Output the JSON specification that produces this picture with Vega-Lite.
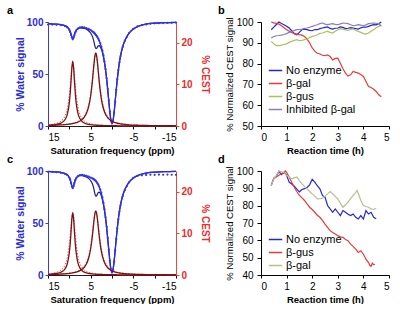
{
"$schema": "https://vega.github.io/schema/vega-lite/v6.json",
"padding": {"left": 7, "top": 4, "right": 0, "bottom": 0},
"background": "white",
"bounds": "flush",
"columns": 2,
"spacing": {"row": 45, "column": 85},
"resolve": {"scale": {"color": "independent"}, "legend": {"color": "independent"}},
"config": {
 "view": {"stroke": null},
 "font": "Liberation Sans",
 "axis": {"grid": false, "tickSize": 3, "labelFontSize": 10, "titleFontSize": 9.5, "labelColor": "#000", "titleColor": "#000", "domainColor": "#000", "tickColor": "#000", "labelPadding": 2},
 "title": {"fontSize": 11, "fontWeight": "bold", "anchor": "start", "frame": "group", "color": "#000"},
 "legend": {"padding": 0},
 "line": {"interpolate": "monotone"}
},
"datasets": {
"za": [
{"x":15,"u":98.3,"n":98.3,"d":97.6,"r9":0.17,"r4":0.14,"r9d":0.28,"r4d":0.16},
{"x":14,"u":98.1,"n":98.1,"d":97.5,"r9":0.24,"r4":0.17,"r9d":0.41,"r4d":0.2},
{"x":13,"u":97.9,"n":97.9,"d":97.3,"r9":0.38,"r4":0.21,"r9d":0.64,"r4d":0.24},
{"x":12,"u":97.4,"n":97.4,"d":96.9,"r9":0.68,"r4":0.26,"r9d":1.13,"r4d":0.3},
{"x":11,"u":96.5,"n":96.4,"d":96.0,"r9":1.56,"r4":0.33,"r9d":2.47,"r4d":0.39},
{"x":10.5,"u":95.3,"n":95.2,"d":94.8,"r9":2.74,"r4":0.38,"r9d":4.12,"r4d":0.45},
{"x":10,"u":92.8,"n":92.7,"d":92.2,"r9":5.62,"r4":0.45,"r9d":7.5,"r4d":0.52},
{"x":9.8,"u":90.9,"n":90.8,"d":90.3,"r9":7.8,"r4":0.48,"r9d":9.6,"r4d":0.55},
{"x":9.6,"u":88.3,"n":88.2,"d":87.6,"r9":10.8,"r4":0.51,"r9d":12,"r4d":0.59},
{"x":9.4,"u":85.5,"n":85.4,"d":85.0,"r9":14.04,"r4":0.54,"r9d":14.1,"r4d":0.63},
{"x":9.2,"u":84.1,"n":84.0,"d":83.4,"r9":15.6,"r4":0.58,"r9d":15,"r4d":0.68},
{"x":9.0,"u":85.3,"n":85.2,"d":84.9,"r9":14.04,"r4":0.63,"r9d":14.1,"r4d":0.73},
{"x":8.8,"u":87.9,"n":87.8,"d":87.5,"r9":10.8,"r4":0.68,"r9d":12,"r4d":0.78},
{"x":8.6,"u":90.3,"n":90.1,"d":90.0,"r9":7.8,"r4":0.73,"r9d":9.6,"r4d":0.85},
{"x":8.4,"u":92.0,"n":91.8,"d":91.7,"r9":5.62,"r4":0.79,"r9d":7.5,"r4d":0.92},
{"x":8.0,"u":93.8,"n":93.6,"d":93.6,"r9":3.12,"r4":0.95,"r9d":4.62,"r4d":1.09},
{"x":7.5,"u":94.6,"n":94.3,"d":94.9,"r9":1.73,"r4":1.2,"r9d":2.72,"r4d":1.38},
{"x":7.0,"u":94.7,"n":94.2,"d":95.1,"r9":1.08,"r4":1.57,"r9d":1.75,"r4d":1.8},
{"x":6.5,"u":94.4,"n":93.8,"d":94.8,"r9":0.73,"r4":2.12,"r9d":1.21,"r4d":2.42},
{"x":6.0,"u":93.9,"n":93.0,"d":94.2,"r9":0.53,"r4":3.01,"r9d":0.88,"r4d":3.4},
{"x":5.5,"u":93.1,"n":91.6,"d":93.3,"r9":0.40,"r4":4.52,"r9d":0.67,"r4d":5.01},
{"x":5.0,"u":92.0,"n":89.4,"d":92.3,"r9":0.31,"r4":7.21,"r9d":0.52,"r4d":7.76},
{"x":4.6,"u":90.9,"n":86.2,"d":91.1,"r9":0.26,"r4":10.73,"r9d":0.44,"r4d":11.1},
{"x":4.4,"u":90.2,"n":83.7,"d":90.3,"r9":0.24,"r4":12.94,"r9d":0.41,"r4d":13.1},
{"x":4.2,"u":89.4,"n":80.4,"d":89.7,"r9":0.22,"r4":15.17,"r9d":0.37,"r4d":15},
{"x":4.0,"u":88.5,"n":76.8,"d":88.8,"r9":0.2,"r4":16.92,"r9d":0.35,"r4d":16.5},
{"x":3.8,"u":87.6,"n":74.6,"d":87.6,"r9":0.19,"r4":17.6,"r9d":0.32,"r4d":17},
{"x":3.6,"u":86.4,"n":74.7,"d":86.7,"r9":0.18,"r4":16.92,"r9d":0.3,"r4d":16.5},
{"x":3.4,"u":85.1,"n":76.1,"d":85.4,"r9":0.17,"r4":15.17,"r9d":0.28,"r4d":15},
{"x":3.2,"u":83.6,"n":77.1,"d":83.9,"r9":0.16,"r4":12.94,"r9d":0.26,"r4d":13.1},
{"x":3.0,"u":81.9,"n":77.2,"d":82.0,"r9":0.15,"r4":10.73,"r9d":0.24,"r4d":11.1},
{"x":2.75,"u":79.2,"n":76.0,"d":79.5,"r9":0.14,"r4":8.37,"r9d":0.22,"r4d":8.9},
{"x":2.5,"u":76.2,"n":73.9,"d":76.4,"r9":0.13,"r4":6.54,"r9d":0.2,"r4d":7.08},
{"x":2.25,"u":72.2,"n":70.5,"d":72.6,"r9":0.12,"r4":5.17,"r9d":0.19,"r4d":5.69},
{"x":2.0,"u":67.4,"n":66.1,"d":67.8,"r9":0.11,"r4":4.15,"r9d":0.17,"r4d":4.62},
{"x":1.75,"u":61.5,"n":60.4,"d":61.9,"r9":0.1,"r4":3.38,"r9d":0.16,"r4d":3.8},
{"x":1.5,"u":54.1,"n":53.3,"d":54.6,"r9":0.1,"r4":2.8,"r9d":0.15,"r4d":3.17},
{"x":1.25,"u":45.3,"n":44.6,"d":45.9,"r9":0.09,"r4":2.35,"r9d":0.14,"r4d":2.67},
{"x":1.0,"u":35.1,"n":34.5,"d":35.6,"r9":0.08,"r4":1.99,"r9d":0.13,"r4d":2.27},
{"x":0.75,"u":23.9,"n":23.9,"d":24.6,"r9":0.08,"r4":1.71,"r9d":0.12,"r4d":1.96},
{"x":0.5,"u":13.3,"n":13.3,"d":13.9,"r9":0.07,"r4":1.48,"r9d":0.11,"r4d":1.7},
{"x":0.25,"u":5.3,"n":5.3,"d":5.8,"r9":0.07,"r4":1.29,"r9d":0.1,"r4d":1.49},
{"x":0,"u":2.3,"n":2.3,"d":2.6,"r9":0.07,"r4":1.14,"r9d":0.1,"r4d":1.32},
{"x":-0.25,"u":5.3,"n":5.3,"d":5.0,"r9":0.06,"r4":1.01,"r9d":0.1,"r4d":1.16},
{"x":-0.5,"u":13.3,"n":13.3,"d":12.9,"r9":0.06,"r4":0.9,"r9d":0.09,"r4d":1.04},
{"x":-0.75,"u":23.9,"n":23.9,"d":23.5,"r9":0.06,"r4":0.81,"r9d":0.09,"r4d":0.94},
{"x":-1.0,"u":35.1,"n":35.1,"d":34.8,"r9":0.06,"r4":0.73,"r9d":0.09,"r4d":0.85},
{"x":-1.25,"u":45.3,"n":45.3,"d":45.0,"r9":0.05,"r4":0.66,"r9d":0.08,"r4d":0.77},
{"x":-1.5,"u":54.1,"n":54.1,"d":53.9,"r9":0.05,"r4":0.6,"r9d":0.08,"r4d":0.7},
{"x":-1.75,"u":61.5,"n":61.5,"d":61.1,"r9":0.05,"r4":0.55,"r9d":0.07,"r4d":0.64},
{"x":-2.0,"u":67.4,"n":67.4,"d":67.2,"r9":0.05,"r4":0.51,"r9d":0.07,"r4d":0.59},
{"x":-2.5,"u":76.2,"n":76.2,"d":75.9,"r9":0.04,"r4":0.43,"r9d":0.07,"r4d":0.5},
{"x":-3.0,"u":82.0,"n":82.0,"d":81.8,"r9":0.04,"r4":0.37,"r9d":0.06,"r4d":0.43},
{"x":-3.5,"u":86.0,"n":86.0,"d":85.8,"r9":0.04,"r4":0.32,"r9d":0.06,"r4d":0.38},
{"x":-4,"u":89.2,"n":89.2,"d":89.3,"r9":0.03,"r4":0.28,"r9d":0.05,"r4d":0.33},
{"x":-5,"u":93.3,"n":93.3,"d":93.5,"r9":0.03,"r4":0.22,"r9d":0.05,"r4d":0.26},
{"x":-6,"u":95.6,"n":95.6,"d":95.9,"r9":0.03,"r4":0.18,"r9d":0.05,"r4d":0.21},
{"x":-7,"u":97.1,"n":97.1,"d":97.0,"r9":0.02,"r4":0.15,"r9d":0.04,"r4d":0.17},
{"x":-8,"u":98.0,"n":98.0,"d":97.7,"r9":0.02,"r4":0.13,"r9d":0.04,"r4d":0.15},
{"x":-9,"u":98.6,"n":98.6,"d":98.2,"r9":0.02,"r4":0.11,"r9d":0.03,"r4d":0.12},
{"x":-10,"u":98.9,"n":98.9,"d":98.7,"r9":0.02,"r4":0.09,"r9d":0.03,"r4d":0.11},
{"x":-11,"u":99.2,"n":99.2,"d":98.8,"r9":0.01,"r4":0.08,"r9d":0.03,"r4d":0.09},
{"x":-12,"u":99.3,"n":99.3,"d":99.0,"r9":0.01,"r4":0.07,"r9d":0.03,"r4d":0.08},
{"x":-13,"u":99.4,"n":99.4,"d":99.1,"r9":0.01,"r4":0.06,"r9d":0.02,"r4d":0.07},
{"x":-14,"u":99.5,"n":99.5,"d":99.2,"r9":0.01,"r4":0.06,"r9d":0.02,"r4d":0.06},
{"x":-15,"u":99.6,"n":99.6,"d":99.3,"r9":0.01,"r4":0.05,"r9d":0.02,"r4d":0.06}
],
"zc": [
{"x":15,"u":99.5,"n":99.5,"d":99.2,"r9":0.16,"r4":0.12,"r9d":0.28,"r4d":0.14},
{"x":14,"u":99.3,"n":99.3,"d":99.1,"r9":0.23,"r4":0.15,"r9d":0.41,"r4d":0.18},
{"x":13,"u":99.1,"n":99.1,"d":98.8,"r9":0.36,"r4":0.18,"r9d":0.64,"r4d":0.22},
{"x":12,"u":98.6,"n":98.6,"d":98.3,"r9":0.65,"r4":0.23,"r9d":1.13,"r4d":0.27},
{"x":11,"u":97.6,"n":97.5,"d":97.2,"r9":1.5,"r4":0.29,"r9d":2.47,"r4d":0.35},
{"x":10.5,"u":96.5,"n":96.4,"d":96.1,"r9":2.63,"r4":0.33,"r9d":4.12,"r4d":0.41},
{"x":10,"u":93.8,"n":93.7,"d":93.4,"r9":5.4,"r4":0.39,"r9d":7.5,"r4d":0.47},
{"x":9.8,"u":91.9,"n":91.8,"d":91.5,"r9":7.49,"r4":0.42,"r9d":9.6,"r4d":0.5},
{"x":9.6,"u":88.8,"n":88.7,"d":88.2,"r9":10.37,"r4":0.45,"r9d":12,"r4d":0.53},
{"x":9.4,"u":85.5,"n":85.4,"d":85.0,"r9":13.48,"r4":0.47,"r9d":14.1,"r4d":0.57},
{"x":9.2,"u":84.3,"n":84.2,"d":83.5,"r9":15.0,"r4":0.51,"r9d":15,"r4d":0.61},
{"x":9.0,"u":85.8,"n":85.7,"d":85.3,"r9":13.48,"r4":0.55,"r9d":14.1,"r4d":0.66},
{"x":8.8,"u":88.9,"n":88.8,"d":88.5,"r9":10.37,"r4":0.6,"r9d":12,"r4d":0.7},
{"x":8.6,"u":91.5,"n":91.3,"d":91.2,"r9":7.49,"r4":0.64,"r9d":9.6,"r4d":0.77},
{"x":8.4,"u":93.3,"n":93.1,"d":93.0,"r9":5.4,"r4":0.69,"r9d":7.5,"r4d":0.83},
{"x":8.0,"u":95.1,"n":94.8,"d":94.9,"r9":3.0,"r4":0.83,"r9d":4.62,"r4d":0.98},
{"x":7.5,"u":95.9,"n":95.5,"d":96.1,"r9":1.66,"r4":1.05,"r9d":2.72,"r4d":1.24},
{"x":7.0,"u":96.0,"n":95.5,"d":96.2,"r9":1.04,"r4":1.37,"r9d":1.75,"r4d":1.62},
{"x":6.5,"u":95.7,"n":95.0,"d":95.9,"r9":0.7,"r4":1.86,"r9d":1.21,"r4d":2.18},
{"x":6.0,"u":95.2,"n":94.2,"d":95.4,"r9":0.51,"r4":2.63,"r9d":0.88,"r4d":3.06},
{"x":5.5,"u":94.5,"n":92.9,"d":94.6,"r9":0.38,"r4":3.96,"r9d":0.67,"r4d":4.51},
{"x":5.0,"u":93.5,"n":90.6,"d":93.7,"r9":0.3,"r4":6.31,"r9d":0.52,"r4d":6.98},
{"x":4.6,"u":92.9,"n":87.7,"d":93.0,"r9":0.25,"r4":9.39,"r9d":0.44,"r4d":9.99},
{"x":4.4,"u":92.4,"n":85.2,"d":92.5,"r9":0.23,"r4":11.32,"r9d":0.41,"r4d":11.79},
{"x":4.2,"u":91.8,"n":81.8,"d":91.9,"r9":0.21,"r4":13.27,"r9d":0.37,"r4d":13.5},
{"x":4.0,"u":91.0,"n":78.0,"d":91.2,"r9":0.19,"r4":14.8,"r9d":0.35,"r4d":14.85},
{"x":3.8,"u":90.3,"n":75.8,"d":90.4,"r9":0.18,"r4":15.4,"r9d":0.32,"r4d":15.3},
{"x":3.6,"u":89.2,"n":76.2,"d":89.4,"r9":0.17,"r4":14.8,"r9d":0.3,"r4d":14.85},
{"x":3.4,"u":88.0,"n":78.0,"d":88.2,"r9":0.16,"r4":13.27,"r9d":0.28,"r4d":13.5},
{"x":3.2,"u":86.6,"n":79.4,"d":86.8,"r9":0.15,"r4":11.32,"r9d":0.26,"r4d":11.79},
{"x":3.0,"u":84.9,"n":79.7,"d":85.0,"r9":0.14,"r4":9.39,"r9d":0.24,"r4d":9.99},
{"x":2.75,"u":82.0,"n":78.4,"d":82.3,"r9":0.13,"r4":7.32,"r9d":0.22,"r4d":8.01},
{"x":2.5,"u":78.7,"n":76.1,"d":79.0,"r9":0.12,"r4":5.72,"r9d":0.2,"r4d":6.37},
{"x":2.25,"u":74.2,"n":72.3,"d":74.6,"r9":0.12,"r4":4.52,"r9d":0.19,"r4d":5.12},
{"x":2.0,"u":68.9,"n":67.5,"d":69.3,"r9":0.11,"r4":3.63,"r9d":0.17,"r4d":4.16},
{"x":1.75,"u":62.7,"n":61.5,"d":63.1,"r9":0.1,"r4":2.96,"r9d":0.16,"r4d":3.42},
{"x":1.5,"u":54.9,"n":54.0,"d":55.4,"r9":0.1,"r4":2.45,"r9d":0.15,"r4d":2.85},
{"x":1.25,"u":45.8,"n":45.1,"d":46.3,"r9":0.09,"r4":2.06,"r9d":0.14,"r4d":2.4},
{"x":1.0,"u":35.1,"n":34.5,"d":35.6,"r9":0.09,"r4":1.74,"r9d":0.13,"r4d":2.04},
{"x":0.75,"u":23.9,"n":23.9,"d":24.5,"r9":0.08,"r4":1.5,"r9d":0.12,"r4d":1.76},
{"x":0.5,"u":13.3,"n":13.3,"d":13.8,"r9":0.08,"r4":1.3,"r9d":0.11,"r4d":1.53},
{"x":0.25,"u":5.3,"n":5.3,"d":5.7,"r9":0.07,"r4":1.13,"r9d":0.1,"r4d":1.34},
{"x":0,"u":2.3,"n":2.3,"d":2.5,"r9":0.07,"r4":1.0,"r9d":0.1,"r4d":1.19},
{"x":-0.25,"u":5.3,"n":5.3,"d":5.1,"r9":0.06,"r4":0.88,"r9d":0.1,"r4d":1.04},
{"x":-0.5,"u":13.3,"n":13.3,"d":13.0,"r9":0.06,"r4":0.79,"r9d":0.09,"r4d":0.94},
{"x":-0.75,"u":23.9,"n":23.9,"d":23.6,"r9":0.06,"r4":0.71,"r9d":0.09,"r4d":0.85},
{"x":-1.0,"u":35.1,"n":35.1,"d":34.7,"r9":0.06,"r4":0.64,"r9d":0.09,"r4d":0.77},
{"x":-1.25,"u":45.3,"n":45.3,"d":44.9,"r9":0.05,"r4":0.58,"r9d":0.08,"r4d":0.69},
{"x":-1.5,"u":54.1,"n":54.1,"d":53.7,"r9":0.05,"r4":0.53,"r9d":0.08,"r4d":0.63},
{"x":-1.75,"u":61.5,"n":61.5,"d":61.0,"r9":0.05,"r4":0.48,"r9d":0.07,"r4d":0.58},
{"x":-2.0,"u":67.4,"n":67.4,"d":67.0,"r9":0.05,"r4":0.45,"r9d":0.07,"r4d":0.53},
{"x":-2.5,"u":76.2,"n":76.2,"d":75.8,"r9":0.04,"r4":0.38,"r9d":0.07,"r4d":0.45},
{"x":-3.0,"u":82.0,"n":82.0,"d":81.6,"r9":0.04,"r4":0.32,"r9d":0.06,"r4d":0.39},
{"x":-3.5,"u":86.0,"n":86.0,"d":85.6,"r9":0.04,"r4":0.28,"r9d":0.06,"r4d":0.34},
{"x":-4,"u":89.2,"n":89.2,"d":89.0,"r9":0.03,"r4":0.25,"r9d":0.05,"r4d":0.3},
{"x":-5,"u":93.3,"n":93.3,"d":93.4,"r9":0.03,"r4":0.19,"r9d":0.05,"r4d":0.23},
{"x":-6,"u":95.6,"n":95.6,"d":95.4,"r9":0.03,"r4":0.16,"r9d":0.05,"r4d":0.19},
{"x":-7,"u":97.1,"n":97.1,"d":95.9,"r9":0.02,"r4":0.13,"r9d":0.04,"r4d":0.15},
{"x":-8,"u":98.0,"n":98.0,"d":96.2,"r9":0.02,"r4":0.11,"r9d":0.04,"r4d":0.14},
{"x":-9,"u":98.6,"n":98.6,"d":96.5,"r9":0.02,"r4":0.1,"r9d":0.03,"r4d":0.11},
{"x":-10,"u":98.9,"n":98.9,"d":96.3,"r9":0.02,"r4":0.08,"r9d":0.03,"r4d":0.1},
{"x":-11,"u":99.2,"n":99.2,"d":96.6,"r9":0.01,"r4":0.07,"r9d":0.03,"r4d":0.08},
{"x":-12,"u":99.3,"n":99.3,"d":96.4,"r9":0.01,"r4":0.06,"r9d":0.03,"r4d":0.07},
{"x":-13,"u":99.4,"n":99.4,"d":96.6,"r9":0.01,"r4":0.05,"r9d":0.02,"r4d":0.06},
{"x":-14,"u":99.5,"n":99.5,"d":96.4,"r9":0.01,"r4":0.05,"r9d":0.02,"r4d":0.05},
{"x":-15,"u":99.6,"n":99.6,"d":96.3,"r9":0.01,"r4":0.04,"r9d":0.02,"r4d":0.05}
],
"tb": [
{"s":"No enzyme","t":0.4,"v":96.3},{"s":"No enzyme","t":0.5,"v":97.5},{"s":"No enzyme","t":0.6,"v":98.8},{"s":"No enzyme","t":0.7,"v":100},{"s":"No enzyme","t":0.8,"v":99.3},{"s":"No enzyme","t":0.9,"v":98.7},{"s":"No enzyme","t":1.0,"v":98.0},{"s":"No enzyme","t":1.1,"v":97.1},{"s":"No enzyme","t":1.2,"v":95.8},{"s":"No enzyme","t":1.3,"v":94.4},{"s":"No enzyme","t":1.4,"v":93.9},{"s":"No enzyme","t":1.5,"v":95.0},{"s":"No enzyme","t":1.6,"v":96.3},{"s":"No enzyme","t":1.7,"v":96.5},{"s":"No enzyme","t":1.8,"v":96.3},{"s":"No enzyme","t":1.9,"v":96.0},{"s":"No enzyme","t":2.0,"v":95.8},{"s":"No enzyme","t":2.1,"v":96.4},{"s":"No enzyme","t":2.2,"v":96.3},{"s":"No enzyme","t":2.3,"v":96.8},{"s":"No enzyme","t":2.4,"v":97.1},{"s":"No enzyme","t":2.5,"v":97.4},{"s":"No enzyme","t":2.6,"v":97.6},{"s":"No enzyme","t":2.7,"v":96.9},{"s":"No enzyme","t":2.8,"v":96.6},{"s":"No enzyme","t":2.9,"v":97.0},{"s":"No enzyme","t":3.0,"v":97.1},{"s":"No enzyme","t":3.1,"v":97.6},{"s":"No enzyme","t":3.2,"v":97.4},{"s":"No enzyme","t":3.3,"v":96.8},{"s":"No enzyme","t":3.4,"v":97.0},{"s":"No enzyme","t":3.5,"v":97.3},{"s":"No enzyme","t":3.6,"v":97.1},{"s":"No enzyme","t":3.7,"v":96.8},{"s":"No enzyme","t":3.8,"v":96.6},{"s":"No enzyme","t":3.9,"v":97.2},{"s":"No enzyme","t":4.0,"v":97.6},{"s":"No enzyme","t":4.1,"v":97.5},{"s":"No enzyme","t":4.2,"v":97.9},{"s":"No enzyme","t":4.3,"v":98.4},{"s":"No enzyme","t":4.4,"v":98.7},{"s":"No enzyme","t":4.5,"v":98.6},{"s":"No enzyme","t":4.6,"v":99.2},{"s":"No enzyme","t":4.7,"v":100},
{"s":"β-gal","t":0.4,"v":100},{"s":"β-gal","t":0.5,"v":99.6},{"s":"β-gal","t":0.6,"v":99.3},{"s":"β-gal","t":0.7,"v":99.0},{"s":"β-gal","t":0.8,"v":98.2},{"s":"β-gal","t":0.9,"v":97.2},{"s":"β-gal","t":1.0,"v":96.3},{"s":"β-gal","t":1.1,"v":95.6},{"s":"β-gal","t":1.2,"v":95.0},{"s":"β-gal","t":1.3,"v":94.4},{"s":"β-gal","t":1.4,"v":94.2},{"s":"β-gal","t":1.5,"v":93.9},{"s":"β-gal","t":1.6,"v":93.7},{"s":"β-gal","t":1.7,"v":93.0},{"s":"β-gal","t":1.8,"v":91.8},{"s":"β-gal","t":1.9,"v":90.0},{"s":"β-gal","t":2.0,"v":87.5},{"s":"β-gal","t":2.1,"v":86.0},{"s":"β-gal","t":2.2,"v":85.0},{"s":"β-gal","t":2.3,"v":84.6},{"s":"β-gal","t":2.4,"v":84.0},{"s":"β-gal","t":2.5,"v":83.8},{"s":"β-gal","t":2.6,"v":84.2},{"s":"β-gal","t":2.7,"v":83.4},{"s":"β-gal","t":2.8,"v":81.8},{"s":"β-gal","t":2.9,"v":82.5},{"s":"β-gal","t":3.0,"v":82.6},{"s":"β-gal","t":3.1,"v":80.2},{"s":"β-gal","t":3.2,"v":77.5},{"s":"β-gal","t":3.3,"v":75.4},{"s":"β-gal","t":3.4,"v":74.0},{"s":"β-gal","t":3.5,"v":74.6},{"s":"β-gal","t":3.6,"v":76.2},{"s":"β-gal","t":3.7,"v":75.8},{"s":"β-gal","t":3.8,"v":75.4},{"s":"β-gal","t":3.9,"v":74.8},{"s":"β-gal","t":4.0,"v":73.8},{"s":"β-gal","t":4.1,"v":71.4},{"s":"β-gal","t":4.2,"v":69.0},{"s":"β-gal","t":4.3,"v":68.5},{"s":"β-gal","t":4.4,"v":67.7},{"s":"β-gal","t":4.5,"v":66.6},{"s":"β-gal","t":4.6,"v":65.0},{"s":"β-gal","t":4.7,"v":64.1},
{"s":"β-gus","t":0.4,"v":90.7},{"s":"β-gus","t":0.5,"v":89.5},{"s":"β-gus","t":0.6,"v":88.6},{"s":"β-gus","t":0.7,"v":88.6},{"s":"β-gus","t":0.8,"v":88.9},{"s":"β-gus","t":0.9,"v":89.2},{"s":"β-gus","t":1.0,"v":89.5},{"s":"β-gus","t":1.1,"v":90.2},{"s":"β-gus","t":1.2,"v":90.7},{"s":"β-gus","t":1.3,"v":91.2},{"s":"β-gus","t":1.4,"v":91.5},{"s":"β-gus","t":1.5,"v":91.0},{"s":"β-gus","t":1.6,"v":91.2},{"s":"β-gus","t":1.7,"v":91.5},{"s":"β-gus","t":1.8,"v":91.8},{"s":"β-gus","t":1.9,"v":92.5},{"s":"β-gus","t":2.0,"v":93.1},{"s":"β-gus","t":2.1,"v":93.4},{"s":"β-gus","t":2.2,"v":93.9},{"s":"β-gus","t":2.3,"v":94.5},{"s":"β-gus","t":2.4,"v":94.7},{"s":"β-gus","t":2.5,"v":95.2},{"s":"β-gus","t":2.6,"v":95.5},{"s":"β-gus","t":2.7,"v":95.0},{"s":"β-gus","t":2.8,"v":94.7},{"s":"β-gus","t":2.9,"v":95.5},{"s":"β-gus","t":3.0,"v":96.3},{"s":"β-gus","t":3.1,"v":96.8},{"s":"β-gus","t":3.2,"v":96.6},{"s":"β-gus","t":3.3,"v":96.2},{"s":"β-gus","t":3.4,"v":96.0},{"s":"β-gus","t":3.5,"v":96.4},{"s":"β-gus","t":3.6,"v":96.6},{"s":"β-gus","t":3.7,"v":96.0},{"s":"β-gus","t":3.8,"v":95.5},{"s":"β-gus","t":3.9,"v":95.0},{"s":"β-gus","t":4.0,"v":94.4},{"s":"β-gus","t":4.1,"v":94.2},{"s":"β-gus","t":4.2,"v":94.7},{"s":"β-gus","t":4.3,"v":95.5},{"s":"β-gus","t":4.4,"v":96.3},{"s":"β-gus","t":4.5,"v":97.2},{"s":"β-gus","t":4.6,"v":97.9},{"s":"β-gus","t":4.7,"v":98.7},
{"s":"Inhibited β-gal","t":0.4,"v":92.3},{"s":"Inhibited β-gal","t":0.5,"v":93.0},{"s":"Inhibited β-gal","t":0.6,"v":93.4},{"s":"Inhibited β-gal","t":0.7,"v":93.5},{"s":"Inhibited β-gal","t":0.8,"v":93.7},{"s":"Inhibited β-gal","t":0.9,"v":94.0},{"s":"Inhibited β-gal","t":1.0,"v":94.4},{"s":"Inhibited β-gal","t":1.1,"v":95.0},{"s":"Inhibited β-gal","t":1.2,"v":95.5},{"s":"Inhibited β-gal","t":1.3,"v":96.0},{"s":"Inhibited β-gal","t":1.4,"v":96.3},{"s":"Inhibited β-gal","t":1.5,"v":96.4},{"s":"Inhibited β-gal","t":1.6,"v":96.6},{"s":"Inhibited β-gal","t":1.7,"v":96.9},{"s":"Inhibited β-gal","t":1.8,"v":97.1},{"s":"Inhibited β-gal","t":1.9,"v":97.5},{"s":"Inhibited β-gal","t":2.0,"v":97.9},{"s":"Inhibited β-gal","t":2.1,"v":98.3},{"s":"Inhibited β-gal","t":2.2,"v":98.7},{"s":"Inhibited β-gal","t":2.3,"v":99.2},{"s":"Inhibited β-gal","t":2.4,"v":99.5},{"s":"Inhibited β-gal","t":2.5,"v":99.0},{"s":"Inhibited β-gal","t":2.6,"v":98.7},{"s":"Inhibited β-gal","t":2.7,"v":99.0},{"s":"Inhibited β-gal","t":2.8,"v":99.2},{"s":"Inhibited β-gal","t":2.9,"v":98.9},{"s":"Inhibited β-gal","t":3.0,"v":98.7},{"s":"Inhibited β-gal","t":3.1,"v":99.1},{"s":"Inhibited β-gal","t":3.2,"v":99.5},{"s":"Inhibited β-gal","t":3.3,"v":99.4},{"s":"Inhibited β-gal","t":3.4,"v":99.2},{"s":"Inhibited β-gal","t":3.5,"v":98.7},{"s":"Inhibited β-gal","t":3.6,"v":98.2},{"s":"Inhibited β-gal","t":3.7,"v":98.4},{"s":"Inhibited β-gal","t":3.8,"v":98.7},{"s":"Inhibited β-gal","t":3.9,"v":98.5},{"s":"Inhibited β-gal","t":4.0,"v":98.2},{"s":"Inhibited β-gal","t":4.1,"v":98.6},{"s":"Inhibited β-gal","t":4.2,"v":99.2},{"s":"Inhibited β-gal","t":4.3,"v":99.4},{"s":"Inhibited β-gal","t":4.4,"v":99.5},{"s":"Inhibited β-gal","t":4.5,"v":99.4},{"s":"Inhibited β-gal","t":4.6,"v":99.2},{"s":"Inhibited β-gal","t":4.7,"v":97.9}
],
"td": [
{"s":"No enzyme","t":0.4,"v":91.7},{"s":"No enzyme","t":0.5,"v":95.9},{"s":"No enzyme","t":0.6,"v":97.0},{"s":"No enzyme","t":0.7,"v":99.8},{"s":"No enzyme","t":0.8,"v":97.9},{"s":"No enzyme","t":0.9,"v":99.4},{"s":"No enzyme","t":1.0,"v":97.5},{"s":"No enzyme","t":1.1,"v":93.6},{"s":"No enzyme","t":1.2,"v":92.5},{"s":"No enzyme","t":1.3,"v":91.2},{"s":"No enzyme","t":1.4,"v":89.5},{"s":"No enzyme","t":1.5,"v":88.0},{"s":"No enzyme","t":1.6,"v":89.3},{"s":"No enzyme","t":1.7,"v":89.8},{"s":"No enzyme","t":1.8,"v":90.5},{"s":"No enzyme","t":1.9,"v":92.0},{"s":"No enzyme","t":2.0,"v":95.2},{"s":"No enzyme","t":2.1,"v":93.6},{"s":"No enzyme","t":2.2,"v":91.5},{"s":"No enzyme","t":2.3,"v":89.7},{"s":"No enzyme","t":2.4,"v":85.9},{"s":"No enzyme","t":2.5,"v":84.9},{"s":"No enzyme","t":2.6,"v":80.1},{"s":"No enzyme","t":2.7,"v":78.1},{"s":"No enzyme","t":2.8,"v":76.2},{"s":"No enzyme","t":2.9,"v":78.1},{"s":"No enzyme","t":3.0,"v":76.2},{"s":"No enzyme","t":3.1,"v":74.3},{"s":"No enzyme","t":3.2,"v":77.2},{"s":"No enzyme","t":3.3,"v":76.2},{"s":"No enzyme","t":3.4,"v":75.0},{"s":"No enzyme","t":3.5,"v":74.3},{"s":"No enzyme","t":3.6,"v":75.2},{"s":"No enzyme","t":3.7,"v":73.3},{"s":"No enzyme","t":3.8,"v":72.3},{"s":"No enzyme","t":3.9,"v":74.3},{"s":"No enzyme","t":4.0,"v":72.3},{"s":"No enzyme","t":4.1,"v":77.2},{"s":"No enzyme","t":4.2,"v":75.2},{"s":"No enzyme","t":4.3,"v":76.2},{"s":"No enzyme","t":4.4,"v":73.3},{"s":"No enzyme","t":4.5,"v":72.5},
{"s":"β-gus","t":0.4,"v":91.7},{"s":"β-gus","t":0.5,"v":95.5},{"s":"β-gus","t":0.6,"v":96.5},{"s":"β-gus","t":0.7,"v":97.5},{"s":"β-gus","t":0.8,"v":98.5},{"s":"β-gus","t":0.9,"v":99.0},{"s":"β-gus","t":0.95,"v":100},{"s":"β-gus","t":1.0,"v":99.2},{"s":"β-gus","t":1.1,"v":96.5},{"s":"β-gus","t":1.2,"v":93.5},{"s":"β-gus","t":1.3,"v":90.7},{"s":"β-gus","t":1.4,"v":88.0},{"s":"β-gus","t":1.5,"v":85.9},{"s":"β-gus","t":1.6,"v":84.5},{"s":"β-gus","t":1.7,"v":83.0},{"s":"β-gus","t":1.8,"v":81.0},{"s":"β-gus","t":1.9,"v":79.1},{"s":"β-gus","t":2.0,"v":77.8},{"s":"β-gus","t":2.1,"v":76.2},{"s":"β-gus","t":2.2,"v":74.5},{"s":"β-gus","t":2.3,"v":73.3},{"s":"β-gus","t":2.4,"v":71.5},{"s":"β-gus","t":2.5,"v":69.4},{"s":"β-gus","t":2.6,"v":67.5},{"s":"β-gus","t":2.7,"v":65.6},{"s":"β-gus","t":2.8,"v":64.5},{"s":"β-gus","t":2.9,"v":63.6},{"s":"β-gus","t":3.0,"v":62.7},{"s":"β-gus","t":3.1,"v":62.0},{"s":"β-gus","t":3.2,"v":61.7},{"s":"β-gus","t":3.3,"v":60.5},{"s":"β-gus","t":3.4,"v":59.8},{"s":"β-gus","t":3.5,"v":57.8},{"s":"β-gus","t":3.6,"v":56.5},{"s":"β-gus","t":3.7,"v":54.9},{"s":"β-gus","t":3.8,"v":53.0},{"s":"β-gus","t":3.9,"v":54.0},{"s":"β-gus","t":4.0,"v":52.0},{"s":"β-gus","t":4.1,"v":49.1},{"s":"β-gus","t":4.2,"v":47.2},{"s":"β-gus","t":4.25,"v":45.6},{"s":"β-gus","t":4.3,"v":45.0},{"s":"β-gus","t":4.35,"v":46.8},{"s":"β-gus","t":4.4,"v":46.0},{"s":"β-gus","t":4.45,"v":46.2},
{"s":"β-gal","t":0.4,"v":91.7},{"s":"β-gal","t":0.5,"v":95.5},{"s":"β-gal","t":0.6,"v":97.5},{"s":"β-gal","t":0.7,"v":100},{"s":"β-gal","t":0.8,"v":99.5},{"s":"β-gal","t":0.9,"v":99.0},{"s":"β-gal","t":1.0,"v":97.5},{"s":"β-gal","t":1.1,"v":96.5},{"s":"β-gal","t":1.2,"v":95.5},{"s":"β-gal","t":1.3,"v":96.0},{"s":"β-gal","t":1.4,"v":96.5},{"s":"β-gal","t":1.5,"v":94.5},{"s":"β-gal","t":1.6,"v":92.6},{"s":"β-gal","t":1.7,"v":91.0},{"s":"β-gal","t":1.8,"v":89.7},{"s":"β-gal","t":1.9,"v":88.2},{"s":"β-gal","t":2.0,"v":86.8},{"s":"β-gal","t":2.1,"v":85.5},{"s":"β-gal","t":2.2,"v":83.9},{"s":"β-gal","t":2.3,"v":84.0},{"s":"β-gal","t":2.4,"v":84.3},{"s":"β-gal","t":2.5,"v":85.5},{"s":"β-gal","t":2.6,"v":86.8},{"s":"β-gal","t":2.7,"v":88.2},{"s":"β-gal","t":2.8,"v":86.8},{"s":"β-gal","t":2.9,"v":85.3},{"s":"β-gal","t":3.0,"v":83.9},{"s":"β-gal","t":3.1,"v":81.5},{"s":"β-gal","t":3.2,"v":79.1},{"s":"β-gal","t":3.3,"v":80.5},{"s":"β-gal","t":3.4,"v":82.0},{"s":"β-gal","t":3.5,"v":84.0},{"s":"β-gal","t":3.6,"v":85.9},{"s":"β-gal","t":3.7,"v":87.5},{"s":"β-gal","t":3.75,"v":88.8},{"s":"β-gal","t":3.8,"v":87.0},{"s":"β-gal","t":3.9,"v":83.0},{"s":"β-gal","t":4.0,"v":80.1},{"s":"β-gal","t":4.1,"v":79.5},{"s":"β-gal","t":4.2,"v":79.1},{"s":"β-gal","t":4.3,"v":78.1},{"s":"β-gal","t":4.4,"v":77.8},{"s":"β-gal","t":4.5,"v":78.5}
]
},
"concat": [
{
 "width": 128, "height": 104,
 "title": {"text": "a", "dx": -41, "offset": 1},
 "data": {"name": "za"},
 "encoding": {"x": {"field": "x", "type": "quantitative", "scale": {"domain": [-15, 15], "reverse": true, "nice": false}, "axis": {"values": [15,10,5,0,-5,-10,-15], "labelExpr": "'' + datum.value", "title": "Saturation frequency (ppm)", "titleFontWeight": "bold", "labelPadding": 3, "titlePadding": 3, "domainColor": "#2a1a1a"}}},
 "layer": [
  {"layer": [
   {"mark": {"type": "line", "color": "#1c1c80", "strokeWidth": 1.2}, "encoding": {"y": {"field": "n", "type": "quantitative", "title": "% Water signal", "scale": {"domain": [0, 100], "nice": false}, "axis": {"orient": "left", "values": [0,25,50,75,100], "labelColor": "#2b2bd9", "labelFontWeight": "bold", "titleColor": "#2b2bd9", "titleFontWeight": "bold", "titleFontSize": 10.5, "domainColor": "#3a3ae0", "tickColor": "#3a3ae0", "titlePadding": 1}}}},
   {"mark": {"type": "line", "color": "#2b2be6", "strokeWidth": 1.3}, "encoding": {"y": {"field": "u", "type": "quantitative", "title": "% Water signal"}}},
   {"mark": {"type": "circle", "size": 5, "color": "#3535ee", "opacity": 1}, "encoding": {"y": {"field": "d", "type": "quantitative", "title": "% Water signal"}}}
  ]},
  {"layer": [
   {"mark": {"type": "line", "color": "#e85a5a", "strokeWidth": 1, "strokeDash": [1.5, 1.5]}, "encoding": {"y": {"field": "r9d", "type": "quantitative", "title": "% CEST", "scale": {"domain": [0, 25], "nice": false}, "axis": {"orient": "right", "values": [0,5,10,15,20,25], "labelColor": "#ee2a2a", "labelFontWeight": "bold", "titleColor": "#ee2a2a", "titleFontWeight": "bold", "titleFontSize": 10, "domainColor": "#ee4444", "tickColor": "#ee4444", "titlePadding": 7}}}},
   {"mark": {"type": "line", "color": "#e85a5a", "strokeWidth": 1, "strokeDash": [1.5, 1.5]}, "encoding": {"y": {"field": "r4d", "type": "quantitative", "title": "% CEST"}}},
   {"mark": {"type": "line", "color": "#7a1212", "strokeWidth": 1.3}, "encoding": {"y": {"field": "r9", "type": "quantitative", "title": "% CEST"}}},
   {"mark": {"type": "line", "color": "#7a1212", "strokeWidth": 1.3}, "encoding": {"y": {"field": "r4", "type": "quantitative", "title": "% CEST"}}}
  ]}
 ],
 "resolve": {"scale": {"y": "independent"}}
},
{
 "width": 128, "height": 104,
 "title": {"text": "b", "dx": -43, "offset": 1},
 "data": {"name": "tb"},
 "mark": {"type": "line", "strokeWidth": 1.2, "interpolate": "linear"},
 "encoding": {
  "x": {"field": "t", "type": "quantitative", "scale": {"domain": [0, 5], "nice": false}, "axis": {"values": [0,1,2,3,4,5], "title": "Reaction time (h)", "titleFontWeight": "bold", "labelPadding": 3, "titlePadding": 3}},
  "y": {"field": "v", "type": "quantitative", "scale": {"domain": [50, 100], "zero": false, "nice": false}, "axis": {"values": [50,60,70,80,90,100], "title": "% Normalized CEST signal", "titleFontWeight": "normal", "titleFontSize": 9.5, "titlePadding": 2, "tickSize": 4, "labelPadding": 4}},
  "color": {"field": "s", "type": "nominal", "scale": {"domain": ["No enzyme", "β-gal", "β-gus", "Inhibited β-gal"], "range": ["#2424d6", "#e83a3a", "#a9c25a", "#8a7dbb"]}, "legend": {"title": null, "orient": "none", "legendX": 7, "legendY": 41, "symbolType": "stroke", "symbolSize": 180, "symbolStrokeWidth": 1.5, "labelFontSize": 11, "labelOffset": 3, "rowPadding": 0, "labelColor": "#000"}}
 }
},
{
 "width": 128, "height": 104,
 "title": {"text": "c", "dx": -41, "offset": 1},
 "data": {"name": "zc"},
 "encoding": {"x": {"field": "x", "type": "quantitative", "scale": {"domain": [-15, 15], "reverse": true, "nice": false}, "axis": {"values": [15,10,5,0,-5,-10,-15], "labelExpr": "'' + datum.value", "title": "Saturation frequency (ppm)", "titleFontWeight": "bold", "labelPadding": 3, "titlePadding": 3, "domainColor": "#2a1a1a"}}},
 "layer": [
  {"layer": [
   {"mark": {"type": "line", "color": "#1c1c80", "strokeWidth": 1.2}, "encoding": {"y": {"field": "n", "type": "quantitative", "title": "% Water signal", "scale": {"domain": [0, 100], "nice": false}, "axis": {"orient": "left", "values": [0,25,50,75,100], "labelColor": "#2b2bd9", "labelFontWeight": "bold", "titleColor": "#2b2bd9", "titleFontWeight": "bold", "titleFontSize": 10.5, "domainColor": "#3a3ae0", "tickColor": "#3a3ae0", "titlePadding": 1}}}},
   {"mark": {"type": "line", "color": "#2b2be6", "strokeWidth": 1.3}, "encoding": {"y": {"field": "u", "type": "quantitative", "title": "% Water signal"}}},
   {"mark": {"type": "circle", "size": 5, "color": "#3535ee", "opacity": 1}, "encoding": {"y": {"field": "d", "type": "quantitative", "title": "% Water signal"}}}
  ]},
  {"layer": [
   {"mark": {"type": "line", "color": "#e85a5a", "strokeWidth": 1, "strokeDash": [1.5, 1.5]}, "encoding": {"y": {"field": "r9d", "type": "quantitative", "title": "% CEST", "scale": {"domain": [0, 25], "nice": false}, "axis": {"orient": "right", "values": [0,5,10,15,20,25], "labelColor": "#ee2a2a", "labelFontWeight": "bold", "titleColor": "#ee2a2a", "titleFontWeight": "bold", "titleFontSize": 10, "domainColor": "#ee4444", "tickColor": "#ee4444", "titlePadding": 7}}}},
   {"mark": {"type": "line", "color": "#e85a5a", "strokeWidth": 1, "strokeDash": [1.5, 1.5]}, "encoding": {"y": {"field": "r4d", "type": "quantitative", "title": "% CEST"}}},
   {"mark": {"type": "line", "color": "#7a1212", "strokeWidth": 1.3}, "encoding": {"y": {"field": "r9", "type": "quantitative", "title": "% CEST"}}},
   {"mark": {"type": "line", "color": "#7a1212", "strokeWidth": 1.3}, "encoding": {"y": {"field": "r4", "type": "quantitative", "title": "% CEST"}}}
  ]}
 ],
 "resolve": {"scale": {"y": "independent"}}
},
{
 "width": 128, "height": 104,
 "title": {"text": "d", "dx": -43, "offset": 1},
 "data": {"name": "td"},
 "mark": {"type": "line", "strokeWidth": 1.2, "interpolate": "linear"},
 "encoding": {
  "x": {"field": "t", "type": "quantitative", "scale": {"domain": [0, 5], "nice": false}, "axis": {"values": [0,1,2,3,4,5], "title": "Reaction time (h)", "titleFontWeight": "bold", "labelPadding": 3, "titlePadding": 3}},
  "y": {"field": "v", "type": "quantitative", "scale": {"domain": [40, 100], "zero": false, "nice": false}, "axis": {"values": [40,50,60,70,80,90,100], "title": "% Normalized CEST signal", "titleFontWeight": "normal", "titleFontSize": 9.5, "titlePadding": 2, "tickSize": 4, "labelPadding": 4}},
  "color": {"field": "s", "type": "nominal", "scale": {"domain": ["No enzyme", "β-gus", "β-gal"], "range": ["#2424d6", "#e83a3a", "#b9bd8e"]}, "legend": {"title": null, "orient": "none", "legendX": 7, "legendY": 61, "symbolType": "stroke", "symbolSize": 180, "symbolStrokeWidth": 1.5, "labelFontSize": 11, "labelOffset": 3, "rowPadding": 0, "labelColor": "#000"}}
 }
}
]
}
